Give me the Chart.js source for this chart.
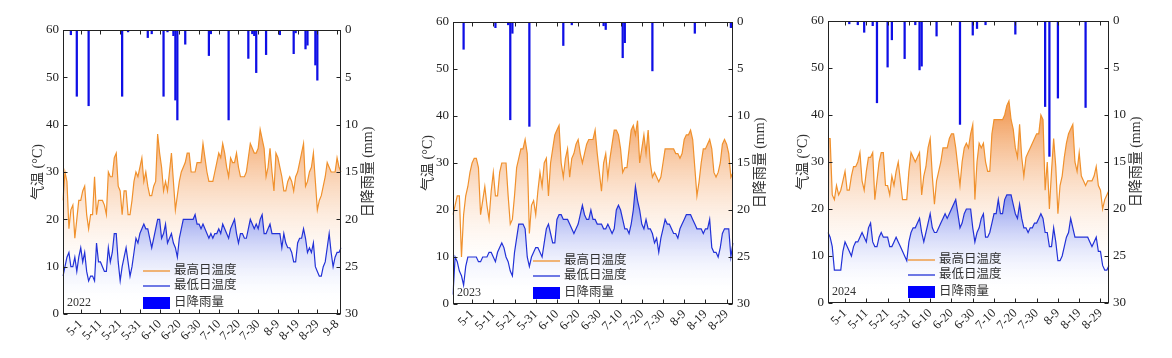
<!DOCTYPE html>
<html>
<head>
<meta charset="utf-8">
<script src="https://cdn.jsdelivr.net/npm/chart.js@4.4.1/dist/chart.umd.min.js"></script>
<style>
  html, body { margin: 0; padding: 0; background: #fff; }
  body { width: 1172px; height: 358px; position: relative; overflow: hidden; }
  canvas { position: absolute; top: 0; }
</style>
</head>
<body>
<canvas id="c2022"></canvas>
<canvas id="c2023"></canvas>
<canvas id="c2024"></canvas>
<script>
// x 轴刻度标签 (每 10 天)
const tickLabels = ['5-1', '5-11', '5-21', '5-31', '6-10', '6-20', '6-30', '7-10', '7-20', '7-30', '8-9', '8-19', '8-29', '9-8'];
const seriesNames = ['最高日温度', '最低日温度', '日降雨量'];

// 2022: 4-22 ~ 9-10
const start2022 = [2022, 4, 22];
const tmax2022 = [24,30,28,18,22,23,16,20,24,24, 26,27,21,18,21,21,29,21,24,24,
  24,23,21,30,29,29,33,34,27,26, 21,26,26,21,21,24,28,30,29,31,
  33,28,30,27,25,25,27,28,38,34, 31,26,28,26,30,34,28,22,25,28,
  30,31,32,34,34,30,30,30,32,32, 32,36,33,30,28,28,28,30,32,34,
  33,36,34,31,29,33,32,32,34,31, 29,29,29,30,33,36,35,34,34,35,
  39,37,35,29,31,35,30,26,34,33, 31,29,26,26,28,29,28,26,29,30,
  32,34,36,27,28,30,31,34,28,22, 24,25,27,29,32,31,30,30,30,33,
  31,30];
const tmin2022 = [8,10,12,13,10,10,12,9,12,14, 11,13,9,7,8,8,7,15,11,11,
  10,9,9,14,11,13,17,17,11,7, 10,12,14,11,8,10,13,16,15,17,
  18,19,18,18,16,14,16,18,20,20, 16,17,19,15,16,17,15,14,12,16,
  18,20,20,20,20,20,20,21,19,19, 18,19,18,17,16,17,16,17,17,18,
  17,19,18,17,16,18,19,20,17,15, 17,17,16,16,18,20,19,18,19,18,
  20,21,17,17,18,19,17,17,17,17, 17,14,17,15,14,14,13,11,11,15,
  16,16,18,16,13,14,13,15,10,9, 8,8,10,11,14,17,13,10,12,13,
  13,14];
const rain2022 = [0,0,0,0,0.5,0,0,7.0,0,0, 0,0,0,8.0,0,0,0,0,0,0,
  0,0,0,0,0,0,0,0,0,0, 7.0,0,0,0.2,0,0,0,0,0,0,
  0,0,0,0.8,0,0.4,0,0,0,0, 0,7.0,0,0.2,0,0,0.6,7.4,9.5,0,
  0,0,1.5,0,0,0,0,0,0,0, 0,0,0,0,2.7,0.4,0,0,0,0,
  0,0,0,0,9.5,0,0,0,0,0, 0,0,0,0,3.0,0,0.4,0.6,4.5,0,
  0,0,0,2.6,0,0,0,0,0,0, 0.5,0,0,0,0,0,0,2.5,0.3,0,
  0,0,0,2.0,1.6,0,0,0,3.7,5.3, 0,0,0,0,0,0,0,0,0,0,
  0,0];

// 2023: 4-22 ~ 9-1
const start2023 = [2023, 4, 22];
const tmax2023 = [19,21,23,23,10,19,23,25,28,30, 31,31,29,19,22,25,21,18,24,28,
  23,23,28,30,30,30,23,17,18,23, 29,31,33,33,35,32,15,21,22,19,
  24,28,25,30,31,23,30,33,36,37, 38,30,27,31,33,27,31,32,34,35,
  32,30,32,34,35,35,35,37,32,28, 24,30,32,27,31,34,37,37,36,33,
  28,29,29,33,37,38,36,39,30,33, 36,32,37,30,27,28,27,26,27,30,
  33,33,33,33,33,32,32,31,32,35, 36,36,37,35,29,23,26,30,33,33,
  34,35,33,28,27,28,30,34,35,34, 32,27,28];
const tmin2023 = [2,10,9,7,6,4,8,10,10,10, 10,10,9,9,10,10,10,11,11,10,
  9,11,12,13,12,10,9,7,6,11, 14,17,17,17,16,10,8,10,11,12,
  12,11,10,13,16,17,15,13,13,18, 19,19,18,18,18,17,16,15,16,17,
  19,21,19,18,18,20,18,18,17,17, 17,16,16,17,16,15,16,20,21,20,
  18,16,16,15,17,20,25,22,20,17, 16,18,16,16,15,13,14,11,14,16,
  18,17,17,16,15,15,14,16,17,18, 19,19,19,18,17,16,16,16,15,16,
  16,18,12,11,11,10,12,15,16,16, 16,10,13];
const rain2023 = [0,0,0,0,0,2.9,0,0,0,0, 0,0,0,0,0,0,0,0,0,0,
  0.6,0,0,0,0,0,0.3,10.4,1.2,0, 0,0,0,0,0,0,11.1,0,0,0,
  0,0,0,0,0,0,0,0,0,0, 0,0,2.5,0,0,0,0.3,0,0,0,
  0,0,0,0,0,0,0,0,0,0, 0,0.4,0.8,0,0,0,0,0,0,0,
  3.8,2.2,0,0,0,0,0,0,0,0, 0,0,0,0,5.2,0,0,0,0,0,
  0,0,0,0,0,0,0,0,0,0, 0,0,0,0,1.2,0,0,0,0,0,
  0,0,0,0,0,0,0,0,0,0, 0,0.6,0];

// 2024: 4-23 ~ 9-2
const start2024 = [2024, 4, 23];
const tmax2024 = [35,35,23,22,25,23,24,26,28,24, 24,27,29,29,30,32,26,24,28,31,
  31,32,22,26,30,32,32,25,25,23, 27,25,28,30,26,22,22,22,28,32,
  31,30,31,32,23,27,29,33,35,27, 21,26,28,30,33,33,33,35,36,36,
  33,29,25,30,33,34,33,36,38,22, 30,34,33,34,30,28,28,36,39,39,
  39,39,39,40,42,43,39,37,33,31, 38,31,27,31,32,33,34,35,36,36,
  40,39,24,30,20,28,35,29,19,25, 27,31,34,36,37,38,30,28,32,27,
  26,25,26,26,26,27,29,25,24,20, 22,23,24];
const tmin2024 = [15,14,12,7,7,7,7,11,13,12, 11,10,12,13,13,14,15,14,13,16,
  17,13,12,12,14,15,14,14,14,12, 12,13,14,13,12,11,10,9,13,15,
  16,16,17,18,15,13,15,17,19,16, 15,15,16,17,18,19,18,19,20,21,
  22,19,16,17,19,20,20,20,16,13, 15,16,18,19,14,14,15,17,19,19,
  22,19,19,22,23,23,23,21,19,18, 21,18,16,16,15,16,16,17,17,18,
  19,18,15,15,12,12,16,13,9,9, 10,12,14,15,18,16,14,14,14,14,
  14,14,14,13,12,13,14,11,11,8, 7,7,8];
const rain2024 = [0,0,0,0,0,0,0,0,0,0, 0.3,0,0,0,0.4,0,0,1.2,0,0,
  0,0.5,0,8.7,0,0,0,0,4.9,0, 2.0,0,0,0,0,0,4.0,0,0,0,
  0,0.4,0,5.2,4.8,0,0,0,0,0, 0,1.6,0,0,0,0,0,0,0,0,
  0,0,11.0,0,0,0,0,0,1.5,0, 0.8,0,0,0,0.4,0,0,0,0,0,
  0,0,0,0,0,0,0,0,1.4,0, 0,0,0,0,0,0,0,0,0,0,
  0,0,9.1,0,14.4,0,0,0,8.2,0, 0,0,0,0,0,0,0,0,0,0,
  0,9.2,0,0,0,0,0,0,0,0, 0,0,0];

// 每个面板的绘图区位置 (px)
const panels = [
  { id: 'c2022', year: '2022', start: start2022, tmax: tmax2022, tmin: tmin2022, rain: rain2022, left: 63, top: 30, w: 278, h: 284 },
  { id: 'c2023', year: '2023', start: start2023, tmax: tmax2023, tmin: tmin2023, rain: rain2023, left: 453, top: 22, w: 280, h: 282 },
  { id: 'c2024', year: '2024', start: start2024, tmax: tmax2024, tmin: tmin2024, rain: rain2024, left: 828, top: 21, w: 281, h: 282 },
];

const SIDE = 50;   // 左右坐标轴宽度
const XAXIS_H = 40; // x 轴高度

const orange = 'rgb(240,145,45)';
const blue = 'rgb(35,50,215)';
const rainBlue = 'rgb(15,15,230)';
const serif = '"Liberation Serif", "Noto Sans CJK SC", serif';
const noGrid = { display: false, drawTicks: false, tickLength: 0 };

Chart.defaults.font.family = serif;
Chart.defaults.color = '#222';

// 日期标签 (月-日)
function dayLabels(start, n) {
  const out = [];
  const d = new Date(start[0], start[1] - 1, start[2]);
  for (let i = 0; i < n; i++) {
    out.push((d.getMonth() + 1) + '-' + d.getDate());
    d.setDate(d.getDate() + 1);
  }
  return out;
}

// 渐变填充
function gradFill(hiVal, loVal, c0, c1) {
  return function (context) {
    const chart = context.chart;
    const y = chart.scales.y;
    if (!chart.chartArea || !y) return 'rgba(0,0,0,0)';
    const g = chart.ctx.createLinearGradient(0, y.getPixelForValue(hiVal), 0, y.getPixelForValue(loVal));
    g.addColorStop(0, c0);
    g.addColorStop(1, c1);
    return g;
  };
}

// 边框, 内向刻度, 轴标题, 图例, 年份
const deco = {
  id: 'deco',
  afterDatasetsDraw(chart) {
    const { ctx, chartArea: a, scales } = chart;
    const L = Math.round(a.left) + 0.5, R = Math.round(a.right) - 0.5;
    const T = Math.round(a.top) + 0.5, B = Math.round(a.bottom) - 0.5;
    ctx.save();
    ctx.strokeStyle = '#222';
    ctx.lineWidth = 1;
    ctx.strokeRect(L, T, R - L, B - T);

    ctx.beginPath();
    scales.x.ticks.forEach((t, i) => {
      const px = Math.round(scales.x.getPixelForTick(i)) + 0.5;
      ctx.moveTo(px, B); ctx.lineTo(px, B - 4);
      ctx.moveTo(px, T); ctx.lineTo(px, T + 4);
    });
    scales.y.ticks.forEach(t => {
      const py = Math.round(scales.y.getPixelForValue(t.value)) + 0.5;
      ctx.moveTo(L, py); ctx.lineTo(L + 4, py);
    });
    scales.rain.ticks.forEach(t => {
      const py = Math.round(scales.rain.getPixelForValue(t.value)) + 0.5;
      ctx.moveTo(R, py); ctx.lineTo(R - 4, py);
    });
    ctx.stroke();

    // 轴标题
    const midY = (a.top + a.bottom) / 2;
    ctx.fillStyle = '#333';
    ctx.font = '14px ' + serif;
    ctx.textAlign = 'center';
    ctx.textBaseline = 'middle';
    ctx.save();
    ctx.translate(a.left - 25, midY);
    ctx.rotate(-Math.PI / 2);
    ctx.fillText('气温 (°C)', 0, 0);
    ctx.restore();
    ctx.save();
    ctx.translate(a.right + 27, midY);
    ctx.rotate(-Math.PI / 2);
    ctx.fillText('日降雨量 (mm)', 0, 0);
    ctx.restore();

    // 图例
    const ds = chart.data.datasets;
    const lx = a.left + 80, tx = a.left + 111, b = a.bottom;
    ctx.lineWidth = 1.3;
    ctx.strokeStyle = orange;
    ctx.beginPath(); ctx.moveTo(lx, b - 43); ctx.lineTo(lx + 27, b - 43); ctx.stroke();
    ctx.strokeStyle = blue;
    ctx.beginPath(); ctx.moveTo(lx, b - 28); ctx.lineTo(lx + 27, b - 28); ctx.stroke();
    ctx.fillStyle = 'rgb(0,0,255)';
    ctx.fillRect(lx, b - 17, 27, 12);
    ctx.fillStyle = '#333';
    ctx.font = '12.5px ' + serif;
    ctx.textAlign = 'left';
    ctx.fillText(ds[0].label, tx, b - 43);
    ctx.fillText(ds[1].label, tx, b - 28);
    ctx.fillText(ds[2].label, tx, b - 11);

    ctx.font = '12px ' + serif;
    ctx.fillText(chart.options.plugins.deco.year, a.left + 4, b - 11);
    ctx.restore();
  }
};

panels.forEach(p => {
  const canvas = document.getElementById(p.id);
  canvas.width = p.w + SIDE * 2;
  canvas.height = 358;
  canvas.style.left = (p.left - SIDE) + 'px';

  const labels = dayLabels(p.start, p.tmax.length);

  new Chart(canvas.getContext('2d'), {
    type: 'line',
    data: {
      labels: labels,
      datasets: [
        {
          label: seriesNames[0], data: p.tmax, yAxisID: 'y',
          borderColor: orange, borderWidth: 1.2, pointRadius: 0, tension: 0,
          fill: '+1',
          backgroundColor: gradFill(40, 8, 'rgba(240,145,70,0.85)', 'rgba(255,235,220,0)'),
        },
        {
          label: seriesNames[1], data: p.tmin, yAxisID: 'y',
          borderColor: blue, borderWidth: 1.2, pointRadius: 0, tension: 0,
          fill: 'origin',
          backgroundColor: gradFill(22, 3, 'rgba(110,125,232,0.75)', 'rgba(230,235,255,0)'),
        },
        {
          type: 'bar', label: seriesNames[2], data: p.rain, yAxisID: 'rain',
          backgroundColor: rainBlue, barThickness: 1.6, borderWidth: 0,
        },
      ]
    },
    options: {
      responsive: false,
      animation: false,
      layout: { padding: { top: p.top, bottom: 358 - (p.top + p.h) - XAXIS_H, left: 0, right: 0 } },
      plugins: {
        legend: { display: false },
        tooltip: { enabled: false },
        filler: { drawTime: 'beforeDatasetsDraw' },
        deco: { year: p.year },
      },
      scales: {
        x: {
          type: 'category',
          offset: false,
          grid: noGrid,
          border: { display: false },
          afterBuildTicks: s => { s.ticks = s.ticks.filter(t => tickLabels.includes(labels[t.value])); },
          afterFit: s => { s.height = XAXIS_H; },
          ticks: { autoSkip: false, minRotation: 45, maxRotation: 45, padding: 3, font: { size: 12.5 }, color: '#222' },
        },
        y: {
          position: 'left', min: 0, max: 60,
          grid: noGrid,
          border: { display: false },
          afterFit: s => { s.width = SIDE; },
          ticks: { stepSize: 10, padding: 4, font: { size: 13 }, color: '#222' },
        },
        rain: {
          position: 'right', min: 0, max: 30, reverse: true,
          grid: noGrid,
          border: { display: false },
          afterFit: s => { s.width = SIDE; },
          ticks: { stepSize: 5, padding: 4, font: { size: 13 }, color: '#222' },
        },
      }
    },
    plugins: [deco]
  });
});
</script>
</body>
</html>
